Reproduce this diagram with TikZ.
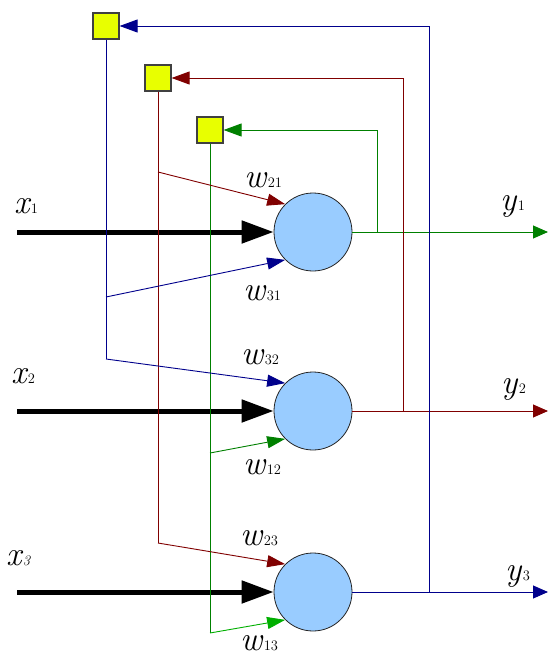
\documentclass[tikz,border=0pt]{standalone}
\usetikzlibrary{arrows.meta}
\definecolor{nblue}{RGB}{0,0,140}
\definecolor{nred}{RGB}{128,0,0}
\definecolor{ngreen}{RGB}{0,128,0}
\definecolor{lgreen}{RGB}{0,175,0}
\definecolor{nfill}{RGB}{153,204,255}
\definecolor{sqfill}{RGB}{232,255,0}
\newcommand\biglbl[2]{{\fontsize{34}{34}\selectfont\itshape #1}\kern1.5pt{\fontsize{14.5}{15}\selectfont #2}}
\begin{document}
\begin{tikzpicture}[x=1pt,y=-1pt,
  neuron/.style={circle,draw=black!85,fill=nfill,minimum size=78pt,inner sep=0pt,line width=0.8pt},
  delay/.style={rectangle,draw=black!75,fill=sqfill,minimum size=26pt,inner sep=0pt,line width=1.2pt},
  wire/.style={line width=0.9pt},
  warrow/.style={wire,-{Triangle[length=18pt,width=12pt]}},
  fbarrow/.style={wire,-{Triangle[length=18pt,width=13pt]}},
  outarrow/.style={wire,-{Triangle[length=15pt,width=13pt]}},
  inarrow/.style={line width=5pt,-{Triangle[length=32pt,width=22pt]}},
  lbl/.style={anchor=base west,inner sep=0pt}
]
\useasboundingbox (0,0) rectangle (548,656);

% neurons
\node[neuron] (n1) at (313,232) {};
\node[neuron] (n2) at (313,411) {};
\node[neuron] (n3) at (313,592) {};

% delay squares
\node[delay] (s1) at (106,26) {};
\node[delay] (s2) at (158,78) {};
\node[delay] (s3) at (210,130) {};

% coordinates
\coordinate (i1) at (17,232);
\coordinate (i2) at (17,411);
\coordinate (i3) at (17,592);
\coordinate (o1) at (548,232);
\coordinate (o2) at (548,411);
\coordinate (o3) at (548,592);
\coordinate (j1) at (377,232);
\coordinate (j2) at (403,411);
\coordinate (j3) at (429,592);
\coordinate (b1) at (106,297);
\coordinate (b2) at (106,359);
\coordinate (r1) at (158,172);
\coordinate (r3) at (158,543);
\coordinate (g2) at (210,453);
\coordinate (g3) at (210,633);

% inputs
\draw[inarrow] (i1) -- (n1.west);
\draw[inarrow] (i2) -- (n2.west);
\draw[inarrow] (i3) -- (n3.west);

% outputs
\draw[outarrow,ngreen] (n1.east) -- (o1);
\draw[outarrow,nred] (n2.east) -- (o2);
\draw[outarrow,nblue] (n3.east) -- (o3);

% feedback
\draw[fbarrow,ngreen] (j1) |- (s3.east);
\draw[fbarrow,nred] (j2) |- (s2.east);
\draw[fbarrow,nblue] (j3) |- (s1.east);

% distribution lines
\draw[wire,nblue] (s1.south) -- (b2);
\draw[wire,nred] (s2.south) -- (r3);
\draw[wire,ngreen] (s3.south) -- (g3);

% weighted connections
\draw[warrow,nred] (r1) -- (n1.135);
\draw[warrow,nblue] (b1) -- (n1.225);
\draw[warrow,nblue] (b2) -- (n2.135);
\draw[warrow,ngreen] (g2) -- (n2.225);
\draw[warrow,nred] (r3) -- (n3.135);
\draw[warrow,lgreen] (g3) -- (n3.225);

% labels
\node[lbl] (lx1) at (14,213) {\biglbl{x}{1}};
\node[lbl] (lx2) at (11,383) {\biglbl{x}{2}};
\node[lbl] (lx3) at (6,565) {\biglbl{x}{\itshape 3}};
\node[lbl] (lw21) at (244,187) {\biglbl{w}{21}};
\node[lbl] (lw31) at (243,300) {\biglbl{w}{31}};
\node[lbl] (lw32) at (241,364) {\biglbl{w}{32}};
\node[lbl] (lw12) at (243,474) {\biglbl{w}{12}};
\node[lbl] (lw23) at (240,545) {\biglbl{w}{23}};
\node[lbl] (lw13) at (240,650) {\biglbl{w}{13}};
\node[lbl] (ly1) at (500,210) {\biglbl{y}{1}};
\node[lbl] (ly2) at (501,393) {\biglbl{y}{2}};
\node[lbl] (ly3) at (505,580) {\biglbl{y}{3}};
\end{tikzpicture}
\end{document}
